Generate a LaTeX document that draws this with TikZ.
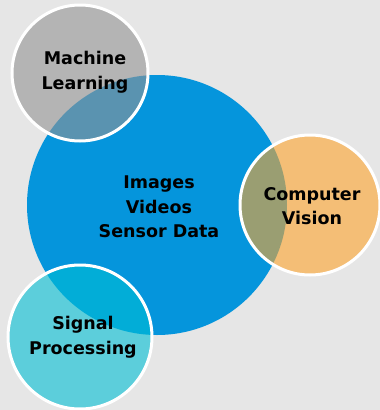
\documentclass[tikz,border=0pt]{standalone}
\usepackage{fontspec}
\setmainfont{DejaVu Sans}
\definecolor{bg}{RGB}{230,230,230}
\definecolor{bigblue}{RGB}{5,149,220}
\definecolor{mlgrey}{RGB}{147,147,147}
\definecolor{cvorange}{RGB}{254,164,44}
\definecolor{spcyan}{RGB}{0,190,212}
\tikzset{
  x=1pt, y=-1pt,
  bubble/.style={circle, draw=white, line width=3pt, fill opacity=0.6, inner sep=0pt},
  lbl/.style={align=center, font=\fontsize{17.5}{24.5}\selectfont\bfseries, text=black}
}
\begin{document}
\begin{tikzpicture}
\fill[bg] (0,0) rectangle (380,410);
\useasboundingbox (0,0) rectangle (380,410);
\node[circle, fill=bigblue, minimum size=260pt, inner sep=0pt] (data) at (157,205) {};
\node[bubble, fill=mlgrey, minimum size=136pt] (ml) at (80,73) {};
\node[bubble, fill=cvorange, minimum size=140pt] (cv) at (310,205) {};
\node[bubble, fill=spcyan, minimum size=144pt] (sp) at (80,337) {};
\node[lbl] (tdata) at (159,207) {Images\\Videos\\Sensor Data};
\node[lbl] (tml) at (85,72) {Machine\\Learning};
\node[lbl] (tcv) at (312,206) {Computer\\Vision};
\node[lbl] (tsp) at (83,337) {Signal\\Processing};
\end{tikzpicture}
\end{document}
